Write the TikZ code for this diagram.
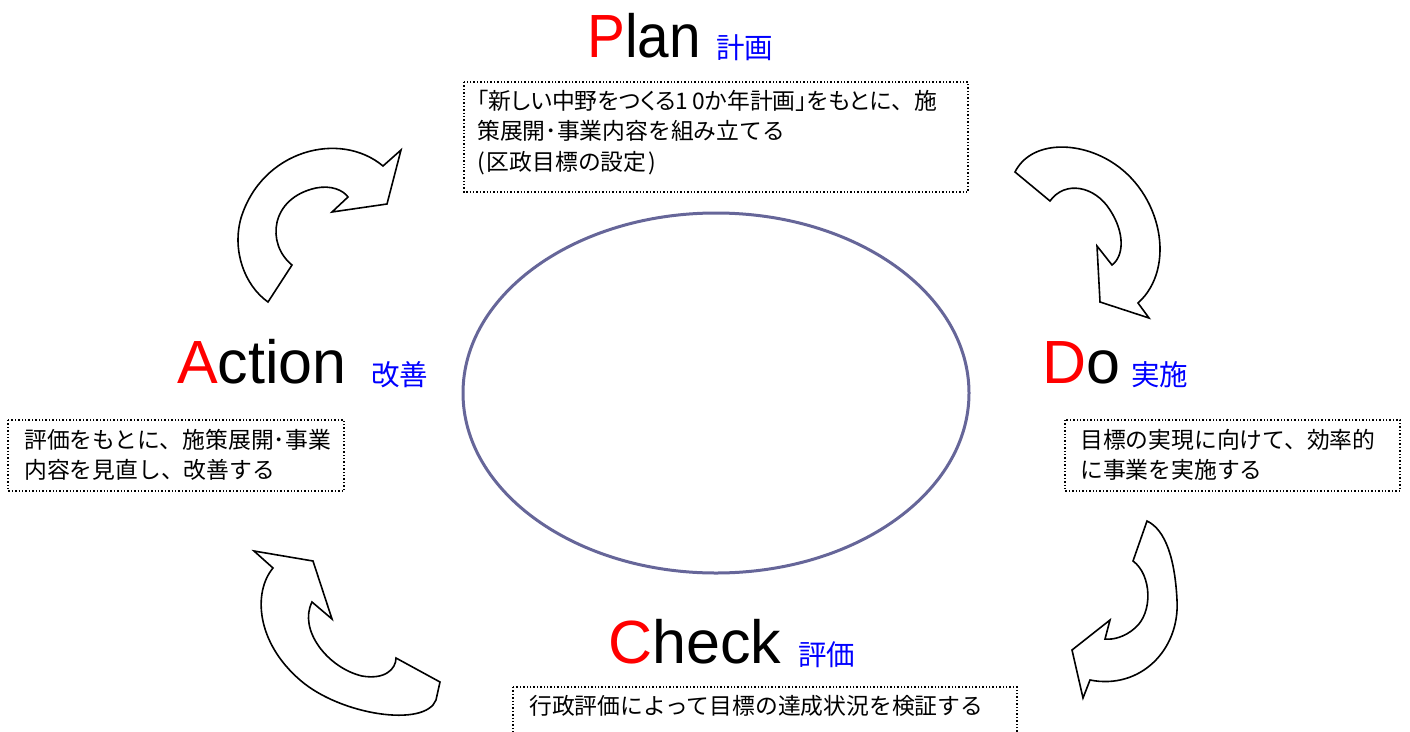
\documentclass[tikz,border=0pt]{standalone}
\usepackage{fontspec}
\setmainfont{Liberation Sans}
\newfontfamily\jp{Noto Sans CJK JP}
\newfontfamily\jpp[RawFeature=+palt]{Noto Sans CJK JP}
\definecolor{ellcol}{RGB}{102,102,153}
\definecolor{bluejp}{RGB}{0,0,255}
\definecolor{redP}{RGB}{255,0,0}
\begin{document}
\begin{tikzpicture}[x=1pt,y=-1pt,
  head/.style={anchor=base west,inner sep=0pt,font=\fontsize{61}{61}\selectfont},
  sub/.style={anchor=base west,inner sep=0pt,text=bluejp,font=\jp\fontsize{28.5}{28.5}\selectfont},
  infobox/.style={draw=black,dotted,line width=1.4pt},
  infotext/.style={anchor=west,inner sep=0pt,align=left,font=\jp\fontsize{22.8}{30}\selectfont},
  carrow/.style={draw=black,fill=white,line width=1.6pt,line join=miter}]
\useasboundingbox (0,0) rectangle (1410,731);
\fill[white] (0,0) rectangle (1410,731);

% central ellipse
\draw[ellcol,line width=3pt] (716,393) ellipse [x radius=253,y radius=180];

% headings
\node[head] (plan) at (587,57) {\scalebox{0.93}[1]{\textcolor{redP}{P}lan}};
\node[sub] (plansub) at (716,58) {計画};
\node[head] (action) at (177,383) {\textcolor{redP}{A}ction};
\node[sub] (actionsub) at (371,385) {改善};
\node[head] (do) at (1042,383) {\textcolor{redP}{D}o};
\node[sub] (dosub) at (1131,385) {実施};
\node[head] (check) at (608,663) {\textcolor{redP}{C}heck};
\node[sub] (checksub) at (798,665) {評価};

% boxes
\draw[infobox] (464,82) rectangle (968,192);
\node[infotext,font=\jp\fontsize{22.8}{30.5}\selectfont] (plantext) at (477,132.5) {{\jpp ｢新しい中野をつくる1\hspace{4pt}0か年計画｣をもとに}、施\\策展開･事業内容を組み立てる\\(\hspace{2pt}区政目標の設定\hspace{2pt})};
\draw[infobox] (8,420) rectangle (344,491);
\node[infotext] (actiontext) at (24,454.5) {評価をもとに、施策展開･事業\\内容を見直し、改善する};
\draw[infobox] (1065,420) rectangle (1400,491);
\node[infotext] (dotext) at (1080,454.5) {目標の実現に向けて、効率的\\に事業を実施する};
\draw[infobox] (513,687) rectangle (1017,760);
\node[infotext] (checktext) at (529,706) {行政評価によって目標の達成状況を検証する};

% curved arrows
% top-left (Action -> Plan)
\draw[carrow] (268,302) -- (292,265)
  .. controls (266,244) and (270,198) .. (316,188)
  .. controls (331,185) and (343,190) .. (348,197)
  -- (332,212) -- (387,204) -- (401,150) -- (383,166)
  .. controls (340,130) and (262,150) .. (241,218)
  .. controls (232,250) and (244,285) .. (268,302) -- cycle;
% top-right (Plan -> Do)
\draw[carrow] (1015,172) -- (1050,201)
  .. controls (1065,180) and (1095,186) .. (1110,210)
  .. controls (1125,233) and (1124,256) .. (1112,265)
  -- (1097,246) -- (1100,302) -- (1149,318) -- (1138,303)
  .. controls (1177,268) and (1162,192) .. (1110,161)
  .. controls (1075,140) and (1030,142) .. (1015,172) -- cycle;
% bottom-right (Do -> Check)
\draw[carrow] (1147,521) -- (1133,561)
  .. controls (1152,575) and (1153,613) .. (1135,628)
  .. controls (1125,637) and (1113,640) .. (1105,639)
  -- (1110,620) -- (1072,650) -- (1083,698) -- (1090,680)
  .. controls (1140,690) and (1180,650) .. (1177,600)
  .. controls (1175,560) and (1166,530) .. (1147,521) -- cycle;
% bottom-left (Check -> Action)
\draw[carrow] (440,682) -- (396,658)
  .. controls (396,669) and (385,680) .. (362,676)
  .. controls (328,668) and (298,630) .. (312,602)
  -- (332,619) -- (313,561) -- (254,551) -- (273,568)
  .. controls (253,592) and (256,642) .. (300,680)
  .. controls (340,715) and (425,728) .. (436,700) -- cycle;
\end{tikzpicture}
\end{document}
